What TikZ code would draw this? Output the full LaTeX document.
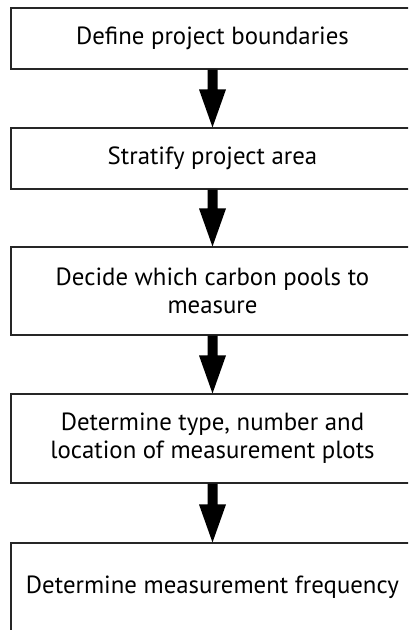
\documentclass[tikz,border=0pt]{standalone}
\usepackage{fontspec}
\setmainfont{PT Sans}
\usetikzlibrary{calc}

% font size chosen so that the longest single line is 373pt wide
\newlength\probewidth
\newcommand\stepfontsize{23}

\tikzset{
  stepbox/.style={draw=black!85, line width=1.1pt, fill=white,
    minimum width=403pt, inner sep=0pt, align=center,
    font=\fontsize{\stepfontsize}{28}\selectfont},
  % thick block arrow: shaft 10pt wide, head 27pt wide and 38pt long
  fatarrow/.style={to path={
    let \p1=(\tikztostart), \p2=(\tikztotarget) in
    (\x1-5pt,\y1) -- (\x1+5pt,\y1) -- (\x1+5pt,\y2+38pt) --
    (\x1+13.5pt,\y2+38pt) -- (\x2,\y2) -- (\x1-13.5pt,\y2+38pt) --
    (\x1-5pt,\y2+38pt) -- cycle}},
}

\begin{document}
\settowidth\probewidth{\fontsize{10}{12}\selectfont Determine measurement frequency}
\pgfmathsetmacro\stepfontsize{10*373/\probewidth}
\begin{tikzpicture}[x=1pt, y=-1pt]
  \useasboundingbox (0,0) rectangle (408,630);
  \clip (0,0) rectangle (408,630);

  \node[stepbox, minimum height=61pt] (b1) at (212.5,38.5) {Define project boundaries};
  \node[stepbox, minimum height=61pt] (b2) at (212.5,158.5) {Stratify project area};
  \node[stepbox, minimum height=88pt] (b3) at (212.5,291) {Decide which carbon pools to\\measure};
  \node[stepbox, minimum height=89pt] (b4) at (212.5,438.5) {Determine type, number and\\location of measurement plots};
  \node[stepbox, minimum height=88pt] (b5) at (212.5,587) {Determine measurement frequency};

  \fill[black] (b1.south) to[fatarrow] (b2.north);
  \fill[black] (b2.south) to[fatarrow] (b3.north);
  \fill[black] (b3.south) to[fatarrow] (b4.north);
  \fill[black] (b4.south) to[fatarrow] (b5.north);
\end{tikzpicture}
\end{document}
